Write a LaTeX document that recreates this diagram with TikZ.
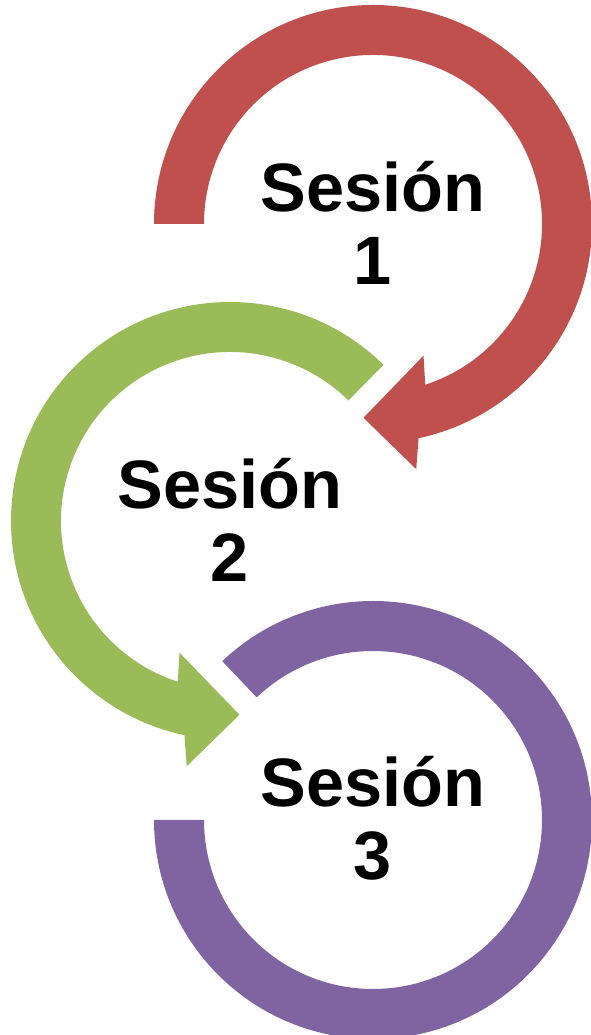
\documentclass[tikz,border=0pt]{standalone}
\usepackage{fontspec}
\setmainfont{Liberation Sans}
\definecolor{redc}{HTML}{C0504D}
\definecolor{greenc}{HTML}{9BBB59}
\definecolor{purplec}{HTML}{8064A2}
\tikzset{
  lbl/.style={align=center, inner sep=0pt, font={\fontsize{68.5pt}{73pt}\selectfont\bfseries}, text=black}
}
\begin{document}
\begin{tikzpicture}[x=1pt,y=1pt]
\useasboundingbox (0,0) rectangle (590,1035);
% centres
\coordinate (c1) at (373,811);
\coordinate (c2) at (230,514);
\coordinate (c3) at (373,215);
% red arrow
\begin{scope}[shift={(c1)}]
\fill[redc] (180:219) arc[start angle=180, end angle=-78, radius=219]
  -- (-80:249) -- (-92.8:194) -- (-69:141) -- (-72:169)
  arc[start angle=-72, end angle=180, radius=169] -- cycle;
\end{scope}
% green arrow
\begin{scope}[shift={(c2)}]
\fill[greenc] (45.5:219) arc[start angle=45.5, end angle=258, radius=219]
  -- (260:249) -- (272.8:194) -- (249:141) -- (252:169)
  arc[start angle=252, end angle=45.5, radius=169] -- cycle;
\end{scope}
% purple arc
\begin{scope}[shift={(c3)}]
\fill[purplec] (180:219) arc[start angle=180, end angle=493.5, radius=219]
  -- (493.5:169) arc[start angle=493.5, end angle=180, radius=169] -- cycle;
\end{scope}
\node[lbl] (t1) at ([yshift=1.5pt]c1) {Sesión\\1};
\node[lbl] (t2) at ([yshift=1.5pt]c2) {Sesión\\2};
\node[lbl] (t3) at ([yshift=1.5pt]c3) {Sesión\\3};
\end{tikzpicture}
\end{document}
